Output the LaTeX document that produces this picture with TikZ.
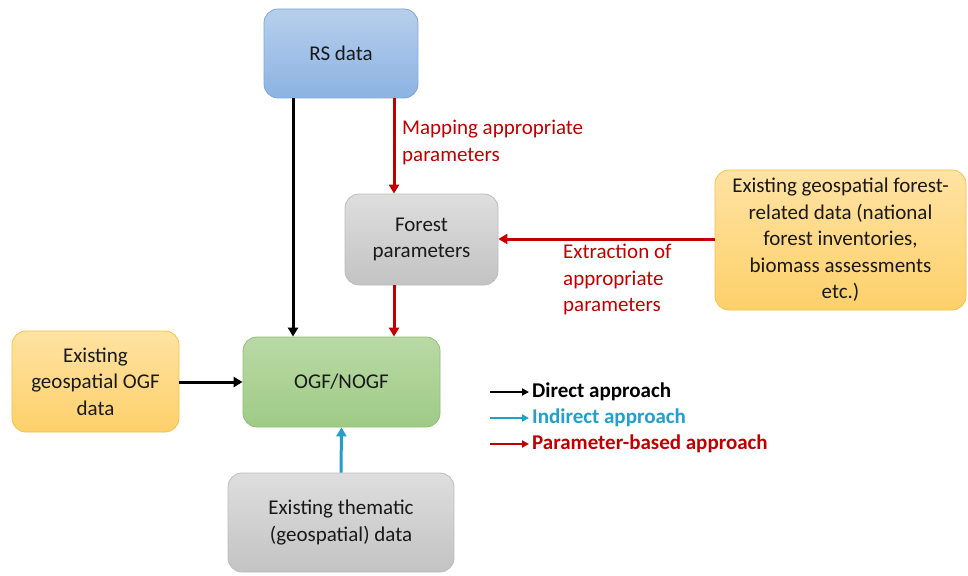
\documentclass[tikz,border=0pt]{standalone}
\usepackage{fontspec}
\setmainfont{Carlito}
\usetikzlibrary{arrows.meta}
\definecolor{redA}{HTML}{C00000}
\definecolor{blueA}{HTML}{239FCC}
\definecolor{bD}{HTML}{7EA6D8}\definecolor{bT}{HTML}{B7CFEC}\definecolor{bB}{HTML}{8CB3E2}
\definecolor{gD}{HTML}{BDBDBD}\definecolor{gT}{HTML}{DEDEDE}\definecolor{gB}{HTML}{C3C3C3}
\definecolor{nD}{HTML}{8EC071}\definecolor{nT}{HTML}{B9D9A5}\definecolor{nB}{HTML}{9FCB86}
\definecolor{oD}{HTML}{F4C244}\definecolor{oT}{HTML}{FFE3A3}\definecolor{oB}{HTML}{FDD06A}
\begin{document}
\begin{tikzpicture}[x=1pt,y=-1pt,
  box/.style={rounded corners=14pt, line width=0.8pt, align=center, inner sep=0pt,
    font=\fontsize{21}{26.5}\selectfont, text=black!90},
  bluebox/.style={box, draw=bD, top color=bT, bottom color=bB},
  graybox/.style={box, draw=gD, top color=gT, bottom color=gB},
  greenbox/.style={box, draw=nD, top color=nT, bottom color=nB},
  orangebox/.style={box, draw=oD, top color=oT, bottom color=oB},
  arr/.style={line width=3pt, -{Triangle[length=9pt,width=10pt]}},
  legarr/.style={line width=2pt, -{Triangle[length=7pt,width=7pt]}},
  lbl/.style={font=\fontsize{21}{26.5}\selectfont, align=left, inner sep=0pt},
  leg/.style={font=\bfseries\fontsize{21}{26.5}\selectfont, anchor=west, inner sep=0pt}
]
\useasboundingbox (0,0) rectangle (968,575);
\fill[white] (0,0) rectangle (968,575);

\node[bluebox, minimum width=154pt, minimum height=89pt] (rs) at (341,53.5) {RS data};
\node[graybox, minimum width=153pt, minimum height=91pt] (fp) at (421.5,239.5) {Forest\\parameters};
\node[orangebox, minimum width=251pt, minimum height=140pt] (fr) at (840.5,240) {Existing geospatial forest-\\related data (national\\forest inventories,\\biomass assessments\\etc.)};
\node[orangebox, minimum width=167pt, minimum height=101pt] (eo) at (95.5,381.5) {Existing\\geospatial OGF\\data};
\node[greenbox, minimum width=197pt, minimum height=90pt] (ogf) at (341.5,382) {OGF/NOGF};
\node[graybox, minimum width=226pt, minimum height=99pt] (th) at (341,522.5) {Existing thematic\\(geospatial) data};

% connectors
\draw[arr, black] (rs.south -| 293,0) -- (ogf.north -| 293,0);
\draw[arr, redA] (rs.south -| 394,0) -- (fp.north -| 394,0);
\draw[arr, redA] (fp.south -| 394,0) -- (ogf.north -| 394,0);
\draw[arr, redA] (fr.west |- 0,239) -- (fp.east |- 0,239);
\draw[arr, black] (eo.east |- 0,382) -- (ogf.west |- 0,382);
\draw[arr, blueA] (th.north) -- (ogf.south);

% labels
\node[lbl, text=redA, anchor=north west] (l1) at (402,120) {Mapping appropriate\\parameters};
\node[lbl, text=redA, anchor=north west] (l2) at (563,244) {Extraction of\\appropriate\\parameters};

% legend
\coordinate (a1) at (490,392); \coordinate (b1) at (529,392);
\coordinate (a2) at (490,418); \coordinate (b2) at (529,418);
\coordinate (a3) at (490,444); \coordinate (b3) at (529,444);
\draw[legarr, black] (a1) -- (b1);
\draw[legarr, blueA] (a2) -- (b2);
\draw[legarr, redA] (a3) -- (b3);
\node[leg, text=black] (t1) at (532,392) {Direct approach};
\node[leg, text=blueA] (t2) at (532,418) {Indirect approach};
\node[leg, text=redA] (t3) at (532,444) {Parameter-based approach};
\end{tikzpicture}
\end{document}
